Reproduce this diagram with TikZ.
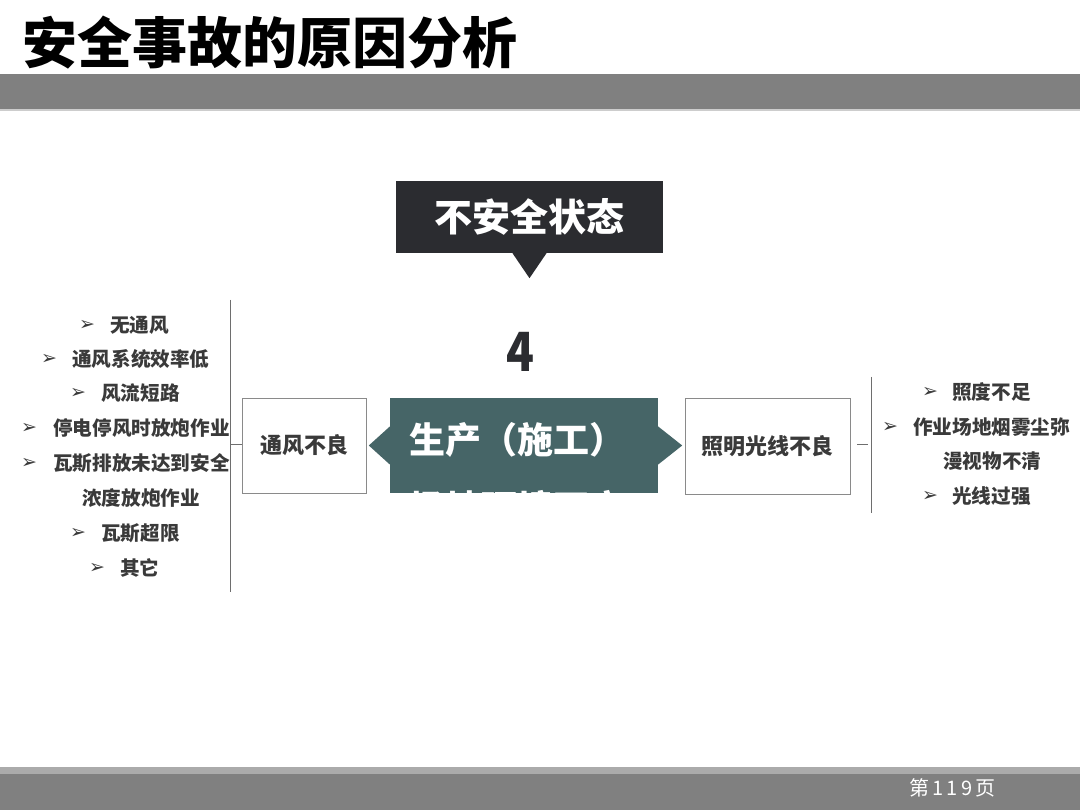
\documentclass[tikz,border=0pt]{standalone}
\usepackage{fontspec}
\setmainfont{Noto Sans CJK SC}
\newfontfamily\dejavu{DejaVu Sans}
\definecolor{bargray}{HTML}{808080}
\definecolor{bandgray}{HTML}{ABABAB}
\definecolor{darkbox}{HTML}{2B2C30}
\definecolor{tealbox}{HTML}{466567}
\definecolor{txtgray}{HTML}{3A3A3A}
\definecolor{linegray}{HTML}{6E6E6E}
\definecolor{boxline}{HTML}{8A8A8A}
\tikzset{
  itemtxt/.style={anchor=west,inner sep=0pt,text=txtgray,font=\bfseries\fontsize{19.6}{19.6}\selectfont},
  bul/.style={anchor=west,inner sep=0pt,text=txtgray,font=\dejavu\fontsize{19}{19}\selectfont},
  sidebox/.style={draw=boxline,line width=0.8pt,fill=white,inner sep=0pt,text=txtgray,font=\bfseries\fontsize{22}{22}\selectfont},
  conn/.style={draw=linegray,line width=0.9pt},
}
\begin{document}
\begin{tikzpicture}[x=1pt,y=-1pt]
\useasboundingbox (0,0) rectangle (1080,810);
\fill[white] (0,0) rectangle (1080,810);
% header
\fill[bargray] (0,74) rectangle (1080,109);
\fill[bandgray!60] (0,109) rectangle (1080,111);
\node[anchor=west,inner sep=0pt,font=\bfseries\fontsize{55}{55}\selectfont] (title) at (22,43) {安全事故的原因分析};
% footer
\fill[bandgray] (0,767) rectangle (1080,774);
\fill[bargray] (0,774) rectangle (1080,810);
\node[anchor=west,inner sep=0pt,text=white,font=\fontsize{20}{20}\selectfont] (page) at (909,788) {第\,1\,1\,9\,页};
% dark box
\node[fill=darkbox,minimum width=267pt,minimum height=72pt,inner sep=0pt,text=white,font=\bfseries\fontsize{38}{38}\selectfont] (d) at (529.5,217) {不安全状态};
\fill[darkbox] ([xshift=-17pt]d.south) -- ([xshift=17pt]d.south) -- ([yshift=-25pt]d.south) -- cycle;
% number
\node[inner sep=0pt,text=darkbox,font=\bfseries\fontsize{54}{54}\selectfont,xscale=0.85] (num) at (520,352) {4};
% teal box
\node[fill=tealbox,minimum width=268pt,minimum height=95pt,inner sep=0pt] (c) at (524,445.5) {};
\fill[tealbox] ([yshift=19pt]c.west) -- ([xshift=-21pt]c.west) -- ([yshift=-19pt]c.west) -- cycle;
\fill[tealbox] ([yshift=19pt]c.east) -- ([xshift=24pt]c.east) -- ([yshift=-19pt]c.east) -- cycle;
\begin{scope}
\clip (c.south west) rectangle (c.north east);
\node[anchor=west,inner sep=0pt,text=white,font=\bfseries\fontsize{36}{36}\selectfont] (c1) at (409,440) {生产（施工）};
\node[anchor=west,inner sep=0pt,text=white,font=\bfseries\fontsize{36}{36}\selectfont] (c2) at (409,508) {场地环境不良};
\end{scope}
% side boxes
\node[sidebox,minimum width=124pt,minimum height=95pt] (lb) at (304,445.5) {通风不良};
\node[sidebox,minimum width=165pt,minimum height=96pt] (rb) at (767.5,446) {照明光线不良};
% left bracket
\coordinate (lvt) at (230,300);
\coordinate (lvb) at (230,592);
\coordinate (lvm) at (230,444);
\draw[conn] (lvt) -- (lvb);
\draw[conn] (lvm) -- (lb.west |- lvm);
% right bracket
\coordinate (rvt) at (871,377);
\coordinate (rvb) at (871,513);
\coordinate (rh1) at (857,444);
\coordinate (rh2) at (868,444);
\draw[conn] (rvt) -- (rvb);
\draw[conn] (rh1) -- (rh2);
% left list
\node[bul] (lb1) at (79,325) {➢};  \node[itemtxt] (lt1) at (110,325) {无通风};
\node[bul] (lb2) at (41,359) {➢};  \node[itemtxt] (lt2) at (72,359) {通风系统效率低};
\node[bul] (lb3) at (70,393) {➢};  \node[itemtxt] (lt3) at (101,393) {风流短路};
\node[bul] (lb4) at (21,428) {➢};  \node[itemtxt] (lt4) at (53,428) {停电停风时放炮作业};
\node[bul] (lb5) at (21,463) {➢};  \node[itemtxt] (lt5) at (53,463) {瓦斯排放未达到安全};
\node[itemtxt] (lt6) at (82,498) {浓度放炮作业};
\node[bul] (lb7) at (70,533) {➢};  \node[itemtxt] (lt7) at (101,533) {瓦斯超限};
\node[bul] (lb8) at (89,568) {➢};  \node[itemtxt] (lt8) at (120,568) {其它};
% right list
\node[bul] (rb1) at (922,392) {➢}; \node[itemtxt] (rt1) at (952,392) {照度不足};
\node[bul] (rb2) at (882,427) {➢}; \node[itemtxt] (rt2) at (913,427) {作业场地烟雾尘弥};
\node[itemtxt] (rt3) at (943,461) {漫视物不清};
\node[bul] (rb4) at (922,496) {➢}; \node[itemtxt] (rt4) at (952,496) {光线过强};
\end{tikzpicture}
\end{document}
